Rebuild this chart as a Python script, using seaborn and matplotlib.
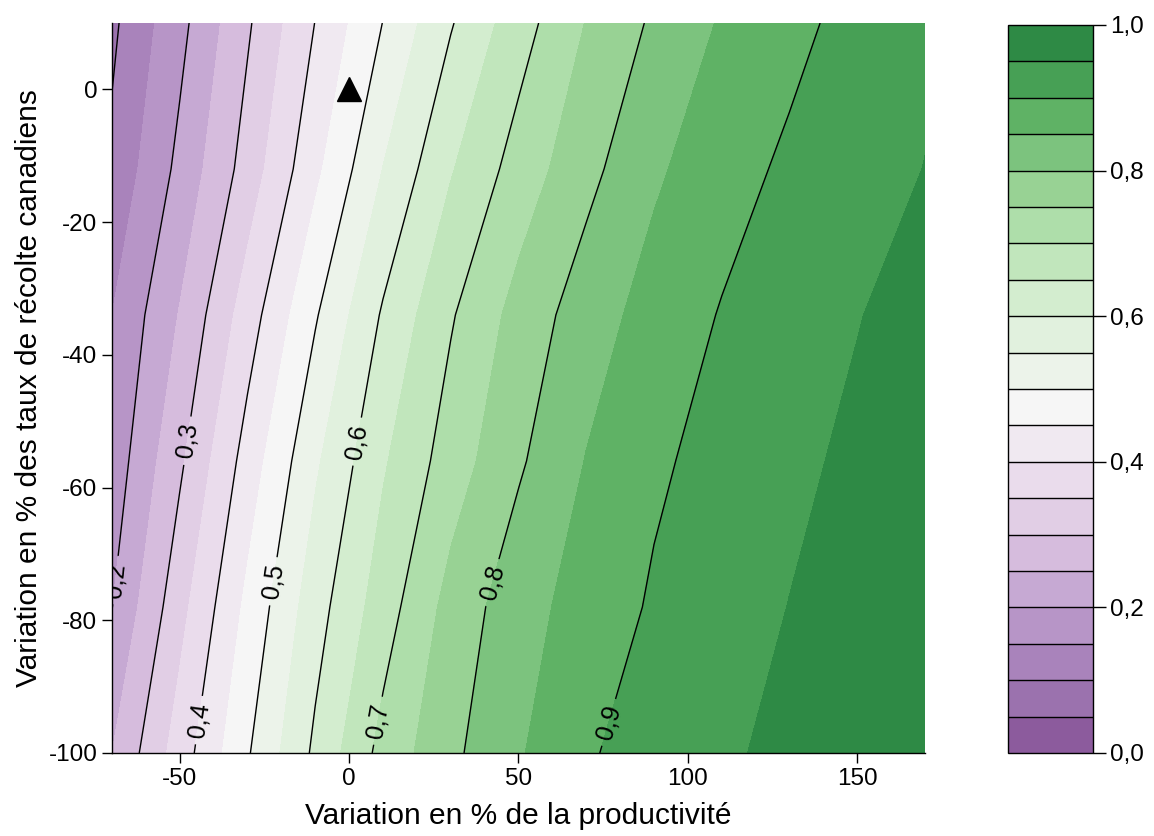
import numpy as np
import seaborn as sns
import matplotlib.pyplot as plt

# grille : variation de la productivité (x) et des taux de récolte (y)
prod_pct = [-70, -50, -30, -10, 10, 30, 50, 70, 90, 110, 130, 150, 170]
harvest_pct = [10, -12, -34, -56, -78, -100]

# valeurs estimées aux noeuds de la grille (une ligne par taux de récolte)
share_grid = [
    [0.090, 0.185, 0.293, 0.401, 0.501, 0.596, 0.678, 0.752, 0.808, 0.855, 0.886, 0.917, 0.940],
    [0.111, 0.213, 0.321, 0.438, 0.551, 0.646, 0.721, 0.785, 0.842, 0.880, 0.909, 0.930, 0.951],
    [0.150, 0.253, 0.375, 0.495, 0.606, 0.695, 0.768, 0.826, 0.870, 0.903, 0.926, 0.948, 0.970],
    [0.170, 0.291, 0.421, 0.542, 0.644, 0.724, 0.793, 0.852, 0.892, 0.917, 0.939, 0.960, 0.975],
    [0.199, 0.333, 0.462, 0.579, 0.676, 0.768, 0.830, 0.871, 0.906, 0.928, 0.951, 0.968, 0.982],
    [0.250, 0.374, 0.495, 0.610, 0.717, 0.789, 0.845, 0.895, 0.920, 0.942, 0.963, 0.976, 0.988],
]

# point de référence (triangle)
ref_point = (0, 0)

fill_levels = np.linspace(0, 1, 21)
unlabelled_levels = [0.1]
labelled_levels = [0.2, 0.3, 0.4, 0.5, 0.6, 0.7, 0.8, 0.9]
cbar_ticks = [0.0, 0.2, 0.4, 0.6, 0.8, 1.0]

fill_colors = [
    "#8c5b9d", "#9b72ae", "#a983bb", "#b795c7", "#c6a9d3",
    "#d6bcdd", "#e1cee5", "#eadcec", "#f0e9f1", "#f6f6f6",
    "#ecf3ea", "#e1f1de", "#d3edcf", "#c1e6bc", "#aedeaa",
    "#98d294", "#7cc37e", "#5fb265", "#47a055", "#2e8a45",
]

# emplacement approximatif des étiquettes des isolignes
label_spots = [(-68, -74), (-47, -53), (-45, -95), (-24, -74),
               (1.5, -53), (7, -95), (40, -74), (74, -95)]

sns.set_style("ticks")
plt.rcParams['font.family'] = ['Liberation Sans', 'DejaVu Sans']
plt.rcParams['axes.unicode_minus'] = False
plt.rcParams['text.color'] = 'black'
plt.rcParams['axes.labelcolor'] = 'black'
plt.rcParams['xtick.color'] = 'black'
plt.rcParams['ytick.color'] = 'black'

fig = plt.figure(figsize=(11.54, 8.36), dpi=100)
ax = fig.add_axes([0.097, 0.0993, 0.7046, 0.8732])
cax = fig.add_axes([0.8735, 0.0993, 0.0737, 0.8708])

X, Y = np.meshgrid(prod_pct, harvest_pct)
Z = np.array(share_grid)

cf = ax.contourf(X, Y, Z, levels=fill_levels, colors=fill_colors)
ax.contour(X, Y, Z, levels=unlabelled_levels, colors="black", linewidths=1.0)
cs = ax.contour(X, Y, Z, levels=labelled_levels, colors="black", linewidths=1.0)
ax.clabel(cs, manual=label_spots, inline=True, inline_spacing=7, fontsize=18,
          fmt=lambda v: f"{v:.1f}".replace(".", ","))

ax.plot(*ref_point, marker="^", markersize=17, color="black", linestyle="none")

ax.set_xlim(-70, 170)
ax.set_ylim(-100, 10)
ax.set_xticks([-50, 0, 50, 100, 150])
ax.set_yticks([0, -20, -40, -60, -80, -100])
ax.tick_params(labelsize=17.5, length=7, width=1, direction="out", color="black")
for side in ["top", "right"]:
    ax.spines[side].set_visible(False)
for side in ["left", "bottom"]:
    ax.spines[side].set_color("black")
    ax.spines[side].set_linewidth(1)

ax.set_xlabel("Variation en % de la productivité", fontsize=21.5, labelpad=9)
ax.set_ylabel("Variation en % des taux de récolte canadiens", fontsize=21.5, labelpad=4)

cbar = fig.colorbar(cf, cax=cax, drawedges=True, ticks=cbar_ticks)
cbar.ax.set_yticklabels([f"{t:.1f}".replace(".", ",") for t in cbar_ticks])
cbar.ax.tick_params(labelsize=17.5, length=9, width=1, direction="out", color="black")
cbar.outline.set_edgecolor("black")
cbar.outline.set_linewidth(1)
cbar.dividers.set_color("black")
cbar.dividers.set_linewidth(1)

fig.savefig("out.png", dpi=100)
